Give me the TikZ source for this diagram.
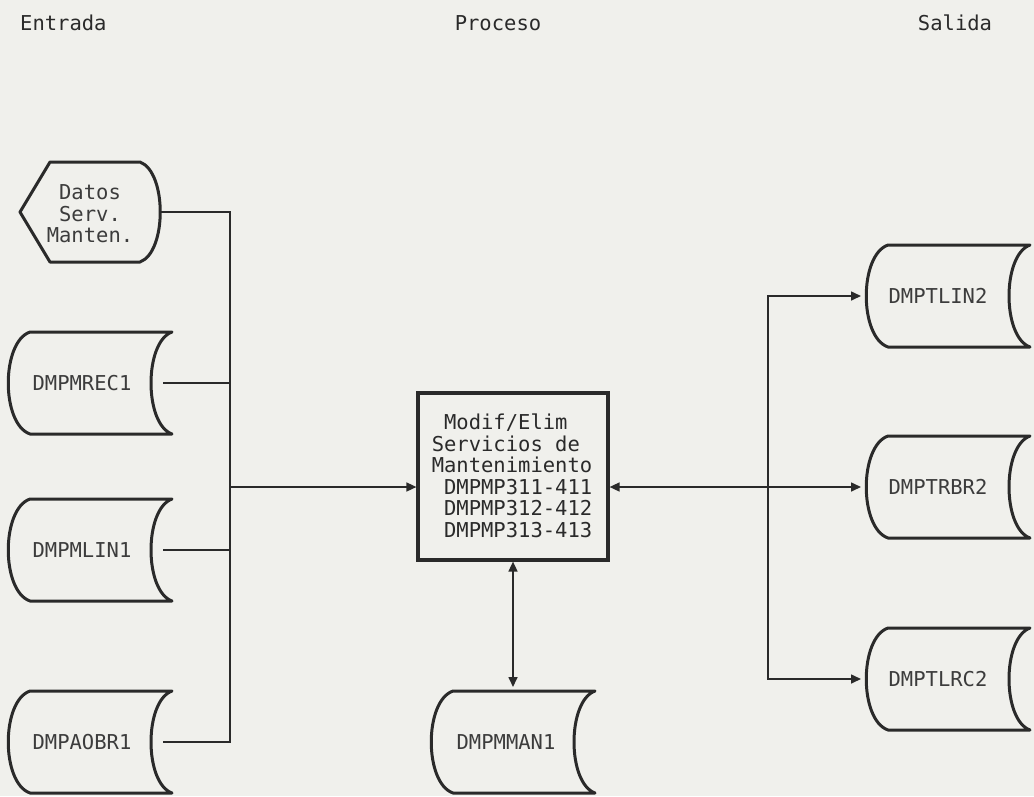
\documentclass[tikz,border=0pt]{standalone}
\usepackage{fontspec}
\setmonofont{DejaVu Sans Mono}
\usetikzlibrary{arrows.meta}
\definecolor{paper}{HTML}{F0F0EC}
\definecolor{ink}{HTML}{2A2A2A}
\definecolor{txt}{HTML}{3C3C3C}
\tikzset{
  shapeline/.style={draw=ink, line width=3pt, line join=round},
  conn/.style={draw=ink, line width=1.6pt},
  lbl/.style={text=txt, font=\ttfamily\fontsize{20.5}{21.5}\selectfont, inner sep=0pt},
  hdr/.style={text=ink, font=\ttfamily\fontsize{20.5}{21.5}\selectfont, inner sep=0pt},
  procbox/.style={draw=ink, line width=3.2pt, minimum width=190pt, minimum height=167pt, inner sep=0pt},
  >={Triangle[length=10pt,width=9pt]}
}
% stored data symbol: #1 name, #2 cx, #3 cy, #4 text, #5 text x-offset
\newcommand\sdsym[5]{%
  \draw[shapeline] ({#2-60},{#3-51}) -- ({#2+82},{#3-51})
     .. controls ({#2+54},{#3-41}) and ({#2+54},{#3+41}) .. ({#2+82},{#3+51})
     -- ({#2-60},{#3+51})
     .. controls ({#2-89},{#3+41}) and ({#2-89},{#3-41}) .. cycle;
  \node[lbl] (#1) at ({#2+#5},#3) {#4};
  \coordinate (#1-e) at ({#2+73},#3);
  \coordinate (#1-w) at ({#2-87},#3);
  \coordinate (#1-n) at (#2,{#3-55});
}
\begin{document}
\begin{tikzpicture}[x=1pt,y=-1pt]
\fill[paper] (0,0) rectangle (1034,796);
\useasboundingbox (0,0) rectangle (1034,796);

% headers
\node[hdr, anchor=west] (hin) at (20,23) {Entrada};
\node[hdr] (hproc) at (498,23) {Proceso};
\node[hdr] (hout) at (955,23) {Salida};

% display symbol
\draw[shapeline] (50,162) -- (140,162)
   .. controls (167,172) and (167,252) .. (140,262)
   -- (50,262) -- (20,212) -- cycle;
\node[lbl, align=center] (datos) at (90,214) {Datos\\Serv.\\Manten.};
\coordinate (datos-e) at (160,212);

% inputs
\sdsym{mrec}{90}{383}{DMPMREC1}{-8}
\sdsym{mlin}{90}{550}{DMPMLIN1}{-8}
\sdsym{aobr}{90}{742}{DMPAOBR1}{-8}

% process
\node[procbox] (proc) at (513,476.5) {};
\node[lbl, text=ink, align=left] (proctxt) at (512,476) {\phantom{M}Modif/Elim\\Servicios de\\Mantenimiento\\\phantom{M}DMPMP311-411\\\phantom{M}DMPMP312-412\\\phantom{M}DMPMP313-413};

% master file
\sdsym{man}{513}{742}{DMPMMAN1}{-7}

% outputs
\sdsym{tlin}{948}{296}{DMPTLIN2}{-10}
\sdsym{trbr}{948}{487}{DMPTRBR2}{-10}
\sdsym{tlrc}{948}{679}{DMPTLRC2}{-10}

% bus coordinates
\coordinate (busin) at (230,487);
\coordinate (busout) at (768,487);

% input connectors
\draw[conn] (datos-e) -| (aobr-e -| busin) -- (aobr-e);
\draw[conn] (mrec-e) -- (mrec-e -| busin);
\draw[conn] (mlin-e) -- (mlin-e -| busin);
\draw[conn,->] (busin) -- (busin -| proc.west);

% output connectors
\draw[conn,<->] (proc.east |- trbr-w) -- (trbr-w);
\draw[conn,->] (busout) |- (tlin-w);
\draw[conn,->] (busout) |- (tlrc-w);

% master connector
\draw[conn,<->] (proc.south) -- (man-n);
\end{tikzpicture}
\end{document}
